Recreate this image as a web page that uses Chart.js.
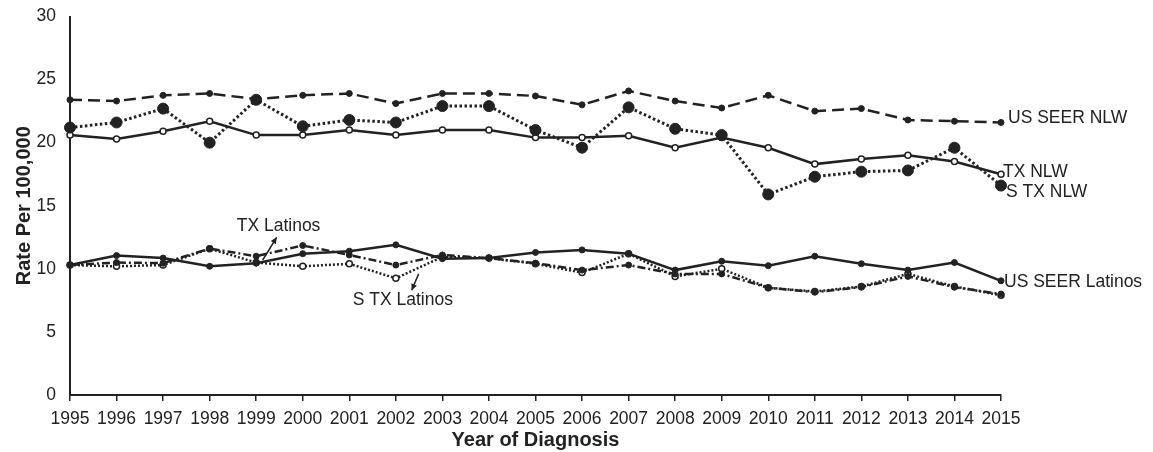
<!DOCTYPE html>
<html>
<head>
<meta charset="utf-8">
<script src="https://cdn.jsdelivr.net/npm/chart.js@4"></script>
<style>
  body { margin: 0; background: #fff; }
</style>
</head>
<body>
<canvas id="grafico" width="1153" height="452"></canvas>
<script>
const anos = ['1995','1996','1997','1998','1999','2000','2001','2002','2003','2004','2005','2006','2007','2008','2009','2010','2011','2012','2013','2014','2015'];

const usSeerNlw = [23.4, 23.3, 23.75, 23.9, 23.45, 23.75, 23.9, 23.1, 23.9, 23.9, 23.7, 23.0, 24.1, 23.3, 22.75, 23.75, 22.5, 22.7, 21.8, 21.7, 21.6];
const sTxNlw = [21.2, 21.6, 22.7, 20.0, 23.4, 21.3, 21.8, 21.6, 22.9, 22.9, 21.0, 19.6, 22.8, 21.1, 20.6, 15.9, 17.3, 17.7, 17.8, 19.6, 16.6];
const txNlw = [20.6, 20.3, 20.9, 21.7, 20.6, 20.6, 21.0, 20.6, 21.0, 21.0, 20.4, 20.4, 20.55, 19.6, 20.4, 19.6, 18.3, 18.7, 19.0, 18.5, 17.5];
const usSeerLat = [10.3, 11.05, 10.85, 10.2, 10.45, 11.2, 11.4, 11.9, 10.8, 10.85, 11.3, 11.5, 11.2, 9.9, 10.6, 10.25, 11.0, 10.4, 9.9, 10.5, 9.05];
const txLat = [10.3, 10.5, 10.45, 11.6, 11.0, 11.85, 11.1, 10.3, 11.1, 10.85, 10.45, 9.9, 10.3, 9.6, 9.6, 8.5, 8.15, 8.55, 9.4, 8.55, 8.0];
const sTxLat = [10.3, 10.2, 10.3, 11.6, 10.5, 10.2, 10.4, 9.25, 10.95, 10.85, 10.4, 9.7, 11.2, 9.4, 10.0, 8.5, 8.2, 8.6, 9.6, 8.6, 7.9];

const ticksY = [0, 5, 10, 15, 20, 25, 30];

const cor = '#222';
const fonte = '"Liberation Sans", Arial, sans-serif';

// rótulos no fim das linhas + setas dos latinos
const rotulos = {
    id: 'rotulos',
    afterDatasetsDraw(chart) {
        const c = chart.ctx;
        const x = chart.scales.x, y = chart.scales.y;
        c.save();
        c.fillStyle = cor;
        c.strokeStyle = cor;
        c.font = '17.5px ' + fonte;
        c.textBaseline = 'middle';
        c.textAlign = 'left';

        function fim(i, dx, dy, txt) {
            const pts = chart.getDatasetMeta(i).data;
            const p = pts[pts.length - 1];
            c.fillText(txt, p.x + dx, p.y + dy);
        }
        fim(0, 7, -4, 'US SEER NLW');
        fim(2, 2, -2, 'TX NLW');
        fim(1, 5, 7, 'S TX NLW');
        fim(3, 3, 1, 'US SEER Latinos');

        c.textAlign = 'center';
        c.fillText('TX Latinos', x.getPixelForValue(4.48), y.getPixelForValue(13.4));
        c.fillText('S TX Latinos', x.getPixelForValue(7.15), y.getPixelForValue(7.55));

        function seta(x1, y1, x2, y2) {
            const ax = x.getPixelForValue(x1), ay = y.getPixelForValue(y1);
            const bx = x.getPixelForValue(x2), by = y.getPixelForValue(y2);
            c.lineWidth = 1.5;
            c.beginPath();
            c.moveTo(ax, ay);
            c.lineTo(bx, by);
            c.stroke();
            const ang = Math.atan2(by - ay, bx - ax);
            c.beginPath();
            c.moveTo(bx, by);
            c.lineTo(bx - 7 * Math.cos(ang - 0.45), by - 7 * Math.sin(ang - 0.45));
            c.lineTo(bx - 7 * Math.cos(ang + 0.45), by - 7 * Math.sin(ang + 0.45));
            c.closePath();
            c.fill();
        }
        seta(4.14, 10.7, 4.44, 12.5);
        seta(7.49, 9.6, 7.34, 8.3);
        c.restore();
    }
};

const dados = {
    labels: anos,
    datasets: [
        {
            label: 'US SEER NLW', data: usSeerNlw,
            borderColor: cor, borderWidth: 2.5, borderDash: [12, 6],
            pointRadius: 3, pointBackgroundColor: cor, pointBorderColor: cor, pointBorderWidth: 1
        },
        {
            label: 'S TX NLW', data: sTxNlw,
            borderColor: cor, borderWidth: 3, borderDash: [2.5, 2.5],
            pointRadius: 5.5, pointBackgroundColor: cor, pointBorderColor: cor, pointBorderWidth: 1
        },
        {
            label: 'TX NLW', data: txNlw,
            borderColor: cor, borderWidth: 2.5,
            pointRadius: 3, pointBackgroundColor: '#fff', pointBorderColor: cor, pointBorderWidth: 1.5
        },
        {
            label: 'US SEER Latinos', data: usSeerLat,
            borderColor: cor, borderWidth: 2.5,
            pointRadius: 3, pointBackgroundColor: cor, pointBorderColor: cor, pointBorderWidth: 1
        },
        {
            label: 'TX Latinos', data: txLat,
            borderColor: cor, borderWidth: 2.5, borderDash: [8, 3, 2, 3],
            pointRadius: 3, pointBackgroundColor: cor, pointBorderColor: cor, pointBorderWidth: 1
        },
        {
            label: 'S TX Latinos', data: sTxLat,
            borderColor: cor, borderWidth: 2.5, borderDash: [2, 2],
            pointRadius: 3, pointBackgroundColor: '#fff', pointBorderColor: cor, pointBorderWidth: 1.5
        }
    ]
};

const grafico = new Chart(document.getElementById('grafico'), {
    type: 'line',
    data: dados,
    plugins: [rotulos],
    options: {
        responsive: false,
        animation: false,
        layout: { padding: { top: 10, right: 152, left: 0, bottom: 0 } },
        plugins: {
            legend: { display: false },
            tooltip: { enabled: false }
        },
        scales: {
            x: {
                offset: false,
                grid: { display: true, drawOnChartArea: false, drawTicks: true, tickLength: 6, color: cor, lineWidth: 1.5 },
                border: { display: true, color: cor, width: 2 },
                ticks: { color: cor, font: { family: fonte, size: 17.5 }, padding: 8, maxRotation: 0, autoSkip: false },
                title: { display: true, text: 'Year of Diagnosis', color: cor, font: { family: fonte, size: 20, weight: 'bold' }, padding: { top: 0, bottom: 0 } },
                afterFit(s) { s.height = 57; }
            },
            y: {
                min: 0, max: 30,
                afterBuildTicks(s) { s.ticks = ticksY.map(v => ({ value: v })); },
                grid: { display: false },
                border: { display: true, color: cor, width: 2 },
                ticks: { color: cor, font: { family: fonte, size: 17.5 }, padding: 6 },
                title: { display: true, text: 'Rate Per 100,000', color: cor, font: { family: fonte, size: 20, weight: 'bold' }, padding: { top: 12, bottom: 0 } },
                afterFit(s) { s.width = 70; }
            }
        }
    }
});
</script>
</body>
</html>
